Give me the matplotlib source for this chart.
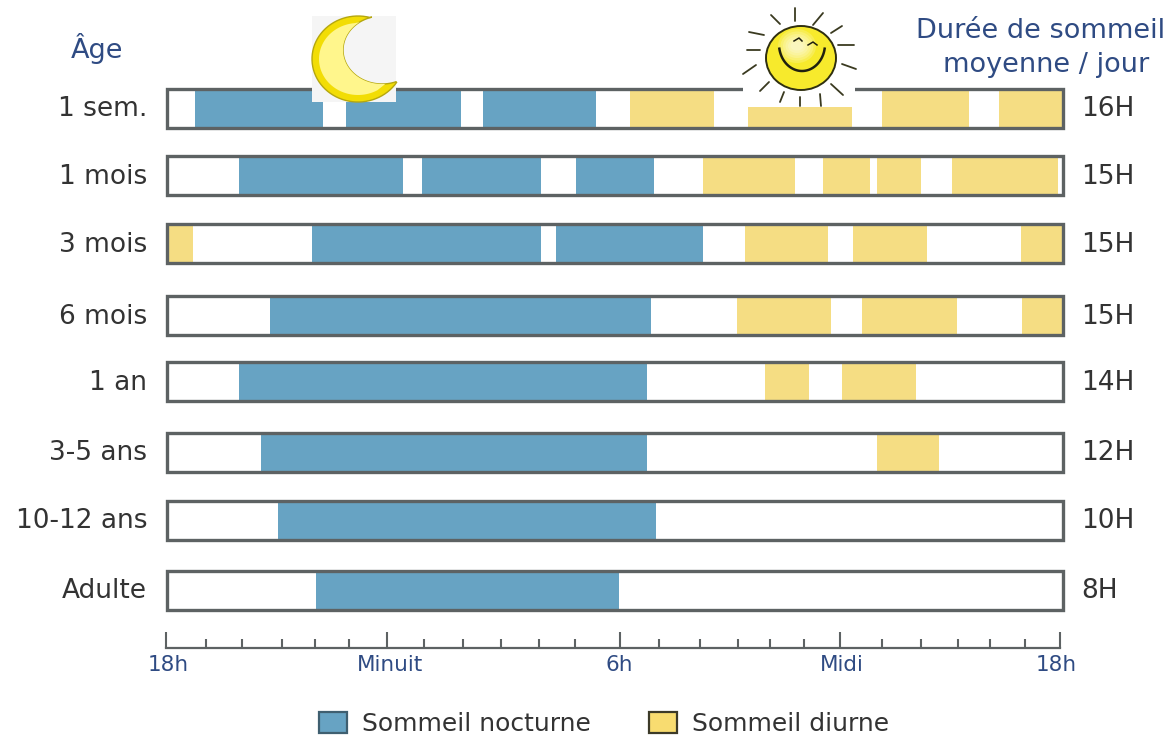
import numpy as np
import matplotlib
matplotlib.use("Agg")
import matplotlib.pyplot as plt
from matplotlib.patches import Patch, Rectangle, Ellipse, Polygon
from matplotlib.ticker import FixedLocator, FixedFormatter
from matplotlib.transforms import ScaledTranslation

# sleep periods in hours after 18h, as (start, end)
ages = ["1 sem.", "1 mois", "3 mois", "6 mois", "1 an", "3-5 ans", "10-12 ans", "Adulte"]
totals = ["16H", "15H", "15H", "15H", "14H", "12H", "10H", "8H"]
night_sleep = [
    [(0.75, 4.18), (4.80, 7.88), (8.47, 11.49)],
    [(1.93, 6.32), (6.83, 10.02), (10.96, 13.05)],
    [(3.88, 10.02), (10.42, 14.36)],
    [(2.76, 12.97)],
    [(1.93, 12.86)],
    [(2.52, 12.86)],
    [(2.97, 13.10)],
    [(3.99, 12.11)],
]
day_sleep = [
    [(12.40, 14.65), (15.56, 18.35), (19.15, 21.48), (22.29, 24.0)],
    [(14.36, 16.82), (17.57, 18.83), (19.02, 20.20), (21.03, 23.87)],
    [(0.0, 0.70), (15.48, 17.71), (18.38, 20.36), (22.88, 24.0)],
    [(15.27, 17.79), (18.62, 21.16), (22.90, 24.0)],
    [(16.02, 17.20), (18.08, 20.06)],
    [(19.02, 20.68)],
    [],
    [],
]
# the ruler is hand drawn, so its ticks are not evenly spaced
major_ticks = [0, 5.94, 12.19, 18.10, 24]
minor_ticks = [1.07, 2.04, 3.12, 4.02, 4.91, 6.93, 7.99, 8.99, 10.02, 10.99,
               13.24, 14.33, 15.36, 16.21, 17.12, 19.21, 20.27, 21.26, 22.12, 23.06]
tick_names = ["18h", "Minuit", "6h", "Midi", "18h"]

W, H = 1176, 736
BLUE = "#67a3c3"
YELLOW = "#f5dd83"
EDGE = "#5d6263"
NAVY = "#2f4b83"
GREY = "#333333"
row_tops = [89, 156, 224, 296, 362, 433, 501, 571]
row_h = 39
label_nudge = [3, 3, -1, 2, -4]

plt.rcParams["font.family"] = ["DejaVu Sans"]


def axes_px(fig, left, top, right, bottom):
    return fig.add_axes([left / W, 1 - bottom / H, (right - left) / W, (bottom - top) / H])


def arc(cx, cy, rx, ry, a0, a1):
    a = np.radians(np.linspace(a0, a1, 60))
    return np.column_stack([cx + rx * np.cos(a), cy + ry * np.sin(a)])


fig = plt.figure(figsize=(W / 100, H / 100), dpi=100, facecolor="white")

# bars, x in hours and y in pixels from the top
ax = axes_px(fig, 167, 0, 1063, H)
ax.set_xlim(0, 24)
ax.set_ylim(H, 0)
ax.axis("off")
for i in range(len(ages)):
    y = (row_tops[i], row_h)
    ax.broken_barh([(a, b - a) for a, b in night_sleep[i]], y, facecolor=BLUE, zorder=2)
    ax.broken_barh([(a, b - a) for a, b in day_sleep[i]], y, facecolor=YELLOW, zorder=2)
    ax.add_patch(Rectangle((0, row_tops[i]), 24, row_h, fill=False, edgecolor=EDGE, lw=2.4,
                           zorder=3, clip_on=False))

# time ruler under the bars
ruler = axes_px(fig, 165.7, 600, 1060, 648)
ruler.set_xlim(0, 24)
ruler.patch.set_alpha(0)
ruler.get_yaxis().set_visible(False)
for s in ["top", "left", "right"]:
    ruler.spines[s].set_visible(False)
ruler.spines["bottom"].set_color(EDGE)
ruler.spines["bottom"].set_linewidth(1.6)
ruler.xaxis.set_major_locator(FixedLocator(major_ticks))
ruler.xaxis.set_major_formatter(FixedFormatter(tick_names))
ruler.xaxis.set_minor_locator(FixedLocator(minor_ticks))
ruler.tick_params(axis="x", which="major", direction="in", length=11.5, width=1.5, color=EDGE,
                  labelcolor=NAVY, labelsize=15.5, pad=5)
ruler.tick_params(axis="x", which="minor", direction="in", length=6.5, width=1.5, color=EDGE)
for lab, dx in zip(ruler.get_xticklabels(), label_nudge):
    lab.set_transform(lab.get_transform() + ScaledTranslation(dx / 100, 0, fig.dpi_scale_trans))

# overlay in pixel coordinates for the labels and the two icons
top = axes_px(fig, 0, 0, W, H)
top.set_xlim(0, W)
top.set_ylim(H, 0)
top.axis("off")
top.patch.set_alpha(0)

for i in range(len(ages)):
    yc = row_tops[i] + row_h / 2 + 1
    top.text(147, yc, ages[i], ha="right", va="center", fontsize=19, color=GREY)
    top.text(1081, yc, totals[i], ha="left", va="center", fontsize=19, color=GREY)

top.text(97, 49, "Âge", ha="center", va="center", fontsize=19.5, color=NAVY)
top.text(1041, 31, "Durée de sommeil", ha="center", va="center", fontsize=19.5, color=NAVY)
top.text(1046, 65, "moyenne / jour", ha="center", va="center", fontsize=19.5, color=NAVY)

# moon
top.add_patch(Rectangle((312, 16), 84, 86, facecolor="#f5f5f5", edgecolor="none", zorder=4))
top.add_patch(Polygon(np.vstack([arc(358, 59, 46, 43, 285, 33), arc(382, 50, 39, 34, 69, 255)]),
                      closed=True, facecolor="#f2dd05", edgecolor="#b5a70f", lw=1, zorder=5))
top.add_patch(Polygon(np.vstack([arc(358, 59, 39, 36, 265, 60), arc(382, 50, 39, 34, 85, 235)]),
                      closed=True, facecolor="#fff68c", edgecolor="none", zorder=5))

# sun
top.add_patch(Rectangle((743, 8), 112, 99, facecolor="white", edgecolor="none", zorder=4))
top.add_patch(Ellipse((801, 58), 70, 64, facecolor="#f7ea2c", edgecolor="#2f2f10", lw=1.4, zorder=5))
for k in range(6):
    top.add_patch(Ellipse((797, 46), 38 - 5 * k, 34 - 5 * k, facecolor="white", alpha=0.18,
                          edgecolor="none", zorder=5))
rays = [(795, 8, 795, 21), (813, 25, 823, 13), (831, 33, 842, 26), (838, 45, 854, 45),
        (842, 64, 856, 69), (831, 84, 843, 95), (820, 94, 821, 106), (800, 97, 800, 106),
        (780, 102, 784, 92), (760, 91, 769, 82), (743, 74, 756, 65), (747, 50, 760, 50),
        (749, 32, 764, 35), (771, 15, 780, 24)]
for x0, y0, x1, y1 in rays:
    top.plot([x0, x1], [y0, y1], color="#3a3a20", lw=1.3, zorder=6, solid_capstyle="round")
smile = arc(802, 44, 23, 27, 170, 10)
top.plot(smile[:, 0], smile[:, 1], color="#20200f", lw=1.8, zorder=6)
top.plot([794, 799, 802], [41, 38, 41], color="#20200f", lw=1.1, zorder=6)
top.plot([808, 813, 817], [45, 42, 45], color="#20200f", lw=1.1, zorder=6)

handles = [Patch(facecolor=BLUE, edgecolor="#3f5f70", lw=1.6, label="Sommeil nocturne"),
           Patch(facecolor="#f8dc70", edgecolor="#3c3a28", lw=1.6, label="Sommeil diurne")]
fig.legend(handles=handles, loc="center", bbox_to_anchor=(604 / W, 1 - 724 / H), ncol=2, frameon=False,
           fontsize=18, labelcolor=GREY, handlelength=1.12, handleheight=0.88,
           handletextpad=0.6, columnspacing=2.3, borderpad=0)

fig.savefig("out.png", dpi=100)
